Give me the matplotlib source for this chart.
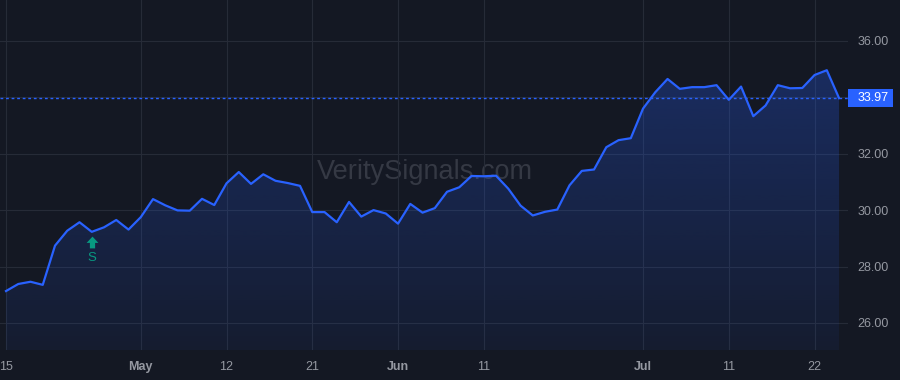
import numpy as np
import pandas as pd
import matplotlib
matplotlib.use("Agg")
import matplotlib.pyplot as plt
from matplotlib.patches import Polygon, Rectangle
from matplotlib.path import Path
from matplotlib.transforms import offset_copy, blended_transform_factory

plt.rcParams['font.family'] = ['Liberation Sans', 'DejaVu Sans']

# trading days, Apr 15 - Jul 24 2025 (market holidays removed)
holidays = ['2025-04-18', '2025-05-26', '2025-06-19', '2025-07-04']
dates = [d for d in pd.bdate_range('2025-04-15', '2025-07-24') if d.strftime('%Y-%m-%d') not in holidays]

close = [27.13, 27.38, 27.46, 27.35, 28.74, 29.27, 29.57, 29.23, 29.39, 29.65,
         29.31, 29.75, 30.39, 30.17, 29.99, 29.98, 30.40, 30.18, 30.95, 31.35,
         30.93, 31.27, 31.04, 30.96, 30.86, 29.93, 29.93, 29.57, 30.29, 29.77,
         30.00, 29.88, 29.52, 30.22, 29.91, 30.07, 30.65, 30.81, 31.21, 31.20,
         31.22, 30.76, 30.16, 29.81, 29.94, 30.02, 30.88, 31.39, 31.44, 32.23,
         32.48, 32.55, 33.60, 34.18, 34.65, 34.30, 34.36, 34.36, 34.43, 33.91,
         34.38, 33.33, 33.71, 34.43, 34.32, 34.33, 34.79, 34.96, 33.97]

tick_dates = ['2025-04-15', '2025-05-01', '2025-05-12', '2025-05-21', '2025-06-02',
              '2025-06-11', '2025-07-01', '2025-07-11', '2025-07-22']
tick_labels = ['15', 'May', '12', '21', 'Jun', '11', 'Jul', '11', '22']
y_ticks = [26, 28, 30, 32, 34, 36]

signal_date = '2025-04-25'
signal_label = 'S'
last_price = close[-1]

bg = '#141823'
grid_c = '#262b37'
blue = '#2962ff'
green = '#089981'
txt_c = '#9598a1'

x = np.arange(len(close))
date_str = [d.strftime('%Y-%m-%d') for d in dates]
ymin, ymax = 25.04, 37.45

fig = plt.figure(figsize=(9, 3.8), dpi=100, facecolor=bg)
ax = fig.add_axes([0, 30 / 380, 848 / 900, 350 / 380])
ax.set_facecolor(bg)
ax.set_xlim(-0.49, 68.73)
ax.set_ylim(ymin, ymax)

# gradient fill under the line
poly = Polygon(np.column_stack([np.r_[x[0], x, x[-1]], np.r_[ymin, close, ymin]]),
               closed=True, facecolor='none', edgecolor='none')
ax.add_patch(poly)
grad = np.zeros((256, 1, 4))
grad[:, 0, :3] = matplotlib.colors.to_rgb(blue)
grad[:, 0, 3] = np.linspace(0.06, 0.30, 256)
im = ax.imshow(grad, aspect='auto', origin='lower',
               extent=[x[0], x[-1], ymin, 36.0], zorder=1)
im.set_clip_path(poly)

ax.plot(x, close, color=blue, lw=1.6, zorder=3)

# last price line + label
ax.axhline(last_price, color=blue, lw=1, ls=(0, (2, 2)), zorder=2)
btr = blended_transform_factory(ax.transAxes, ax.transData)
box_h = 18 / 28.2
ax.add_patch(Rectangle((1.0, last_price - box_h / 2), 45 / 848, box_h, transform=btr,
                       fc=blue, ec='none', clip_on=False, zorder=5))
ax.text(1.0 + 10 / 848, last_price, f'{last_price:.2f}', transform=btr,
        color='white', fontsize=9, va='center', ha='left', clip_on=False, zorder=6)

# signal marker (up arrow + letter)
si = date_str.index(signal_date)
arrow = Path([(0, 4.5), (4.5, -0.3), (2, -0.3), (2, -4.5), (-2, -4.5), (-2, -0.3),
              (-4.5, -0.3), (0, 4.5)],
             [Path.MOVETO] + [Path.LINETO] * 6 + [Path.CLOSEPOLY])
tr_arrow = offset_copy(ax.transData, fig=fig, x=0, y=-7.0, units='points')
ax.plot([x[si]], [close[si]], marker=arrow, ms=8.5, color=green, mec='none',
        transform=tr_arrow, zorder=4)
ax.annotate(signal_label, xy=(x[si], close[si]), xytext=(0, -18.5), textcoords='offset points',
            ha='center', va='center', color=green, fontsize=9.5)

# watermark
ax.text(0.501, 0.509, 'VeritySignals.com', transform=ax.transAxes, ha='center', va='center',
        fontsize=19.5, color='#353944', zorder=0)

tick_pos = [date_str.index(d) for d in tick_dates]
ax.set_xticks(tick_pos)
ax.set_xticklabels(tick_labels)
for lab, t in zip(ax.get_xticklabels(), tick_labels):
    if not t.isdigit():
        lab.set_fontweight('bold')
ax.set_yticks(y_ticks)
# 34.00 sits under the last price label
ax.set_yticklabels(['' if v == 34 else f'{v:.2f}' for v in y_ticks])
ax.yaxis.tick_right()
ax.tick_params(axis='both', length=0, colors=txt_c, labelsize=9)
ax.tick_params(axis='x', pad=8)
ax.tick_params(axis='y', pad=7)
ax.grid(True, color=grid_c, lw=0.8)
ax.set_axisbelow(True)
for s in ax.spines.values():
    s.set_visible(False)

fig.savefig('out.png', dpi=100, facecolor=bg)
